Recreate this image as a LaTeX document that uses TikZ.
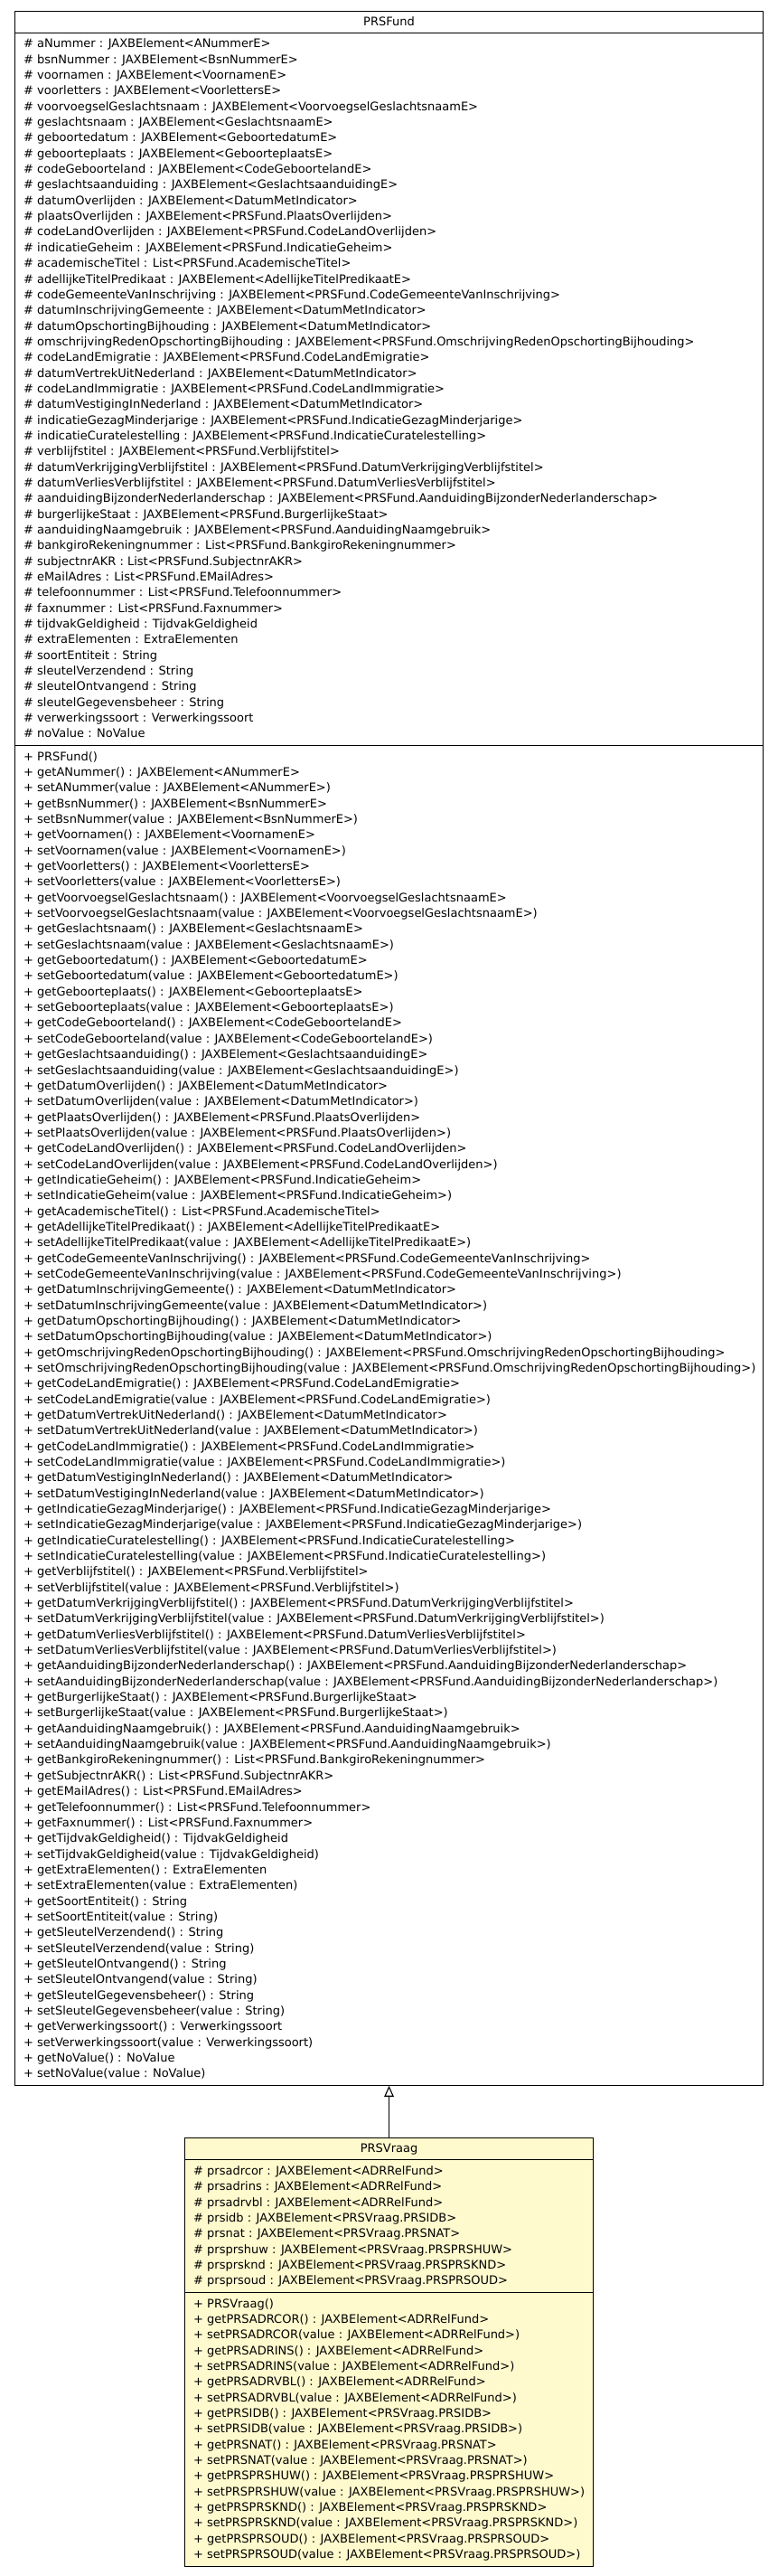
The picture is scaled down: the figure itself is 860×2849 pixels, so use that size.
\documentclass[tikz,border=0pt]{standalone}
\usepackage{fontspec}
\setmainfont{DejaVu Sans}
\usetikzlibrary{arrows.meta}
\definecolor{umlyellow}{HTML}{FFFACD}
\newcommand\umlfont{\fontsize{13}{17.34}\selectfont}
\tikzset{
  umlbox/.style={draw=black, line width=1.1pt, inner sep=0pt, anchor=north west, font=\umlfont},
  umltxt/.style={anchor=base west, inner sep=0pt, font=\umlfont},
  inherit/.style={draw=black, line width=1.1pt, -{Triangle[open, length=12pt, width=10.5pt]}}
}
\begin{document}
\begin{tikzpicture}[x=1pt,y=1pt]
\useasboundingbox (0,0) rectangle (860,-2849);
% ---------------- PRSFund ----------------
\node[umlbox, minimum width=828pt, minimum height=24pt] (fundhead) at (16,-11.5) {PRSFund};
\node[umlbox, minimum width=828pt, minimum height=788.3pt] (fundattr) at (16,-35.5) {};
\node[umlbox, minimum width=828pt, minimum height=1481.9pt] (fundmeth) at (16,-823.8) {};
\foreach \t [count=\i] in {
{\# aNummer : JAXBElement<ANummerE>},
{\# bsnNummer : JAXBElement<BsnNummerE>},
{\# voornamen : JAXBElement<VoornamenE>},
{\# voorletters : JAXBElement<VoorlettersE>},
{\# voorvoegselGeslachtsnaam : JAXBElement<VoorvoegselGeslachtsnaamE>},
{\# geslachtsnaam : JAXBElement<GeslachtsnaamE>},
{\# geboortedatum : JAXBElement<GeboortedatumE>},
{\# geboorteplaats : JAXBElement<GeboorteplaatsE>},
{\# codeGeboorteland : JAXBElement<CodeGeboortelandE>},
{\# geslachtsaanduiding : JAXBElement<GeslachtsaanduidingE>},
{\# datumOverlijden : JAXBElement<DatumMetIndicator>},
{\# plaatsOverlijden : JAXBElement<PRSFund.PlaatsOverlijden>},
{\# codeLandOverlijden : JAXBElement<PRSFund.CodeLandOverlijden>},
{\# indicatieGeheim : JAXBElement<PRSFund.IndicatieGeheim>},
{\# academischeTitel : List<PRSFund.AcademischeTitel>},
{\# adellijkeTitelPredikaat : JAXBElement<AdellijkeTitelPredikaatE>},
{\# codeGemeenteVanInschrijving : JAXBElement<PRSFund.CodeGemeenteVanInschrijving>},
{\# datumInschrijvingGemeente : JAXBElement<DatumMetIndicator>},
{\# datumOpschortingBijhouding : JAXBElement<DatumMetIndicator>},
{\# omschrijvingRedenOpschortingBijhouding : JAXBElement<PRSFund.OmschrijvingRedenOpschortingBijhouding>},
{\# codeLandEmigratie : JAXBElement<PRSFund.CodeLandEmigratie>},
{\# datumVertrekUitNederland : JAXBElement<DatumMetIndicator>},
{\# codeLandImmigratie : JAXBElement<PRSFund.CodeLandImmigratie>},
{\# datumVestigingInNederland : JAXBElement<DatumMetIndicator>},
{\# indicatieGezagMinderjarige : JAXBElement<PRSFund.IndicatieGezagMinderjarige>},
{\# indicatieCuratelestelling : JAXBElement<PRSFund.IndicatieCuratelestelling>},
{\# verblijfstitel : JAXBElement<PRSFund.Verblijfstitel>},
{\# datumVerkrijgingVerblijfstitel : JAXBElement<PRSFund.DatumVerkrijgingVerblijfstitel>},
{\# datumVerliesVerblijfstitel : JAXBElement<PRSFund.DatumVerliesVerblijfstitel>},
{\# aanduidingBijzonderNederlanderschap : JAXBElement<PRSFund.AanduidingBijzonderNederlanderschap>},
{\# burgerlijkeStaat : JAXBElement<PRSFund.BurgerlijkeStaat>},
{\# aanduidingNaamgebruik : JAXBElement<PRSFund.AanduidingNaamgebruik>},
{\# bankgiroRekeningnummer : List<PRSFund.BankgiroRekeningnummer>},
{\# subjectnrAKR : List<PRSFund.SubjectnrAKR>},
{\# eMailAdres : List<PRSFund.EMailAdres>},
{\# telefoonnummer : List<PRSFund.Telefoonnummer>},
{\# faxnummer : List<PRSFund.Faxnummer>},
{\# tijdvakGeldigheid : TijdvakGeldigheid},
{\# extraElementen : ExtraElementen},
{\# soortEntiteit : String},
{\# sleutelVerzendend : String},
{\# sleutelOntvangend : String},
{\# sleutelGegevensbeheer : String},
{\# verwerkingssoort : Verwerkingssoort},
{\# noValue : NoValue}}
  \node[umltxt] (fa\i) at (26,{-(52.9+(\i-1)*17.34)}) {\t};
\foreach \t [count=\i] in {
{+ PRSFund()},
{+ getANummer() : JAXBElement<ANummerE>},
{+ setANummer(value : JAXBElement<ANummerE>)},
{+ getBsnNummer() : JAXBElement<BsnNummerE>},
{+ setBsnNummer(value : JAXBElement<BsnNummerE>)},
{+ getVoornamen() : JAXBElement<VoornamenE>},
{+ setVoornamen(value : JAXBElement<VoornamenE>)},
{+ getVoorletters() : JAXBElement<VoorlettersE>},
{+ setVoorletters(value : JAXBElement<VoorlettersE>)},
{+ getVoorvoegselGeslachtsnaam() : JAXBElement<VoorvoegselGeslachtsnaamE>},
{+ setVoorvoegselGeslachtsnaam(value : JAXBElement<VoorvoegselGeslachtsnaamE>)},
{+ getGeslachtsnaam() : JAXBElement<GeslachtsnaamE>},
{+ setGeslachtsnaam(value : JAXBElement<GeslachtsnaamE>)},
{+ getGeboortedatum() : JAXBElement<GeboortedatumE>},
{+ setGeboortedatum(value : JAXBElement<GeboortedatumE>)},
{+ getGeboorteplaats() : JAXBElement<GeboorteplaatsE>},
{+ setGeboorteplaats(value : JAXBElement<GeboorteplaatsE>)},
{+ getCodeGeboorteland() : JAXBElement<CodeGeboortelandE>},
{+ setCodeGeboorteland(value : JAXBElement<CodeGeboortelandE>)},
{+ getGeslachtsaanduiding() : JAXBElement<GeslachtsaanduidingE>},
{+ setGeslachtsaanduiding(value : JAXBElement<GeslachtsaanduidingE>)},
{+ getDatumOverlijden() : JAXBElement<DatumMetIndicator>},
{+ setDatumOverlijden(value : JAXBElement<DatumMetIndicator>)},
{+ getPlaatsOverlijden() : JAXBElement<PRSFund.PlaatsOverlijden>},
{+ setPlaatsOverlijden(value : JAXBElement<PRSFund.PlaatsOverlijden>)},
{+ getCodeLandOverlijden() : JAXBElement<PRSFund.CodeLandOverlijden>},
{+ setCodeLandOverlijden(value : JAXBElement<PRSFund.CodeLandOverlijden>)},
{+ getIndicatieGeheim() : JAXBElement<PRSFund.IndicatieGeheim>},
{+ setIndicatieGeheim(value : JAXBElement<PRSFund.IndicatieGeheim>)},
{+ getAcademischeTitel() : List<PRSFund.AcademischeTitel>},
{+ getAdellijkeTitelPredikaat() : JAXBElement<AdellijkeTitelPredikaatE>},
{+ setAdellijkeTitelPredikaat(value : JAXBElement<AdellijkeTitelPredikaatE>)},
{+ getCodeGemeenteVanInschrijving() : JAXBElement<PRSFund.CodeGemeenteVanInschrijving>},
{+ setCodeGemeenteVanInschrijving(value : JAXBElement<PRSFund.CodeGemeenteVanInschrijving>)},
{+ getDatumInschrijvingGemeente() : JAXBElement<DatumMetIndicator>},
{+ setDatumInschrijvingGemeente(value : JAXBElement<DatumMetIndicator>)},
{+ getDatumOpschortingBijhouding() : JAXBElement<DatumMetIndicator>},
{+ setDatumOpschortingBijhouding(value : JAXBElement<DatumMetIndicator>)},
{+ getOmschrijvingRedenOpschortingBijhouding() : JAXBElement<PRSFund.OmschrijvingRedenOpschortingBijhouding>},
{+ setOmschrijvingRedenOpschortingBijhouding(value : JAXBElement<PRSFund.OmschrijvingRedenOpschortingBijhouding>)},
{+ getCodeLandEmigratie() : JAXBElement<PRSFund.CodeLandEmigratie>},
{+ setCodeLandEmigratie(value : JAXBElement<PRSFund.CodeLandEmigratie>)},
{+ getDatumVertrekUitNederland() : JAXBElement<DatumMetIndicator>},
{+ setDatumVertrekUitNederland(value : JAXBElement<DatumMetIndicator>)},
{+ getCodeLandImmigratie() : JAXBElement<PRSFund.CodeLandImmigratie>},
{+ setCodeLandImmigratie(value : JAXBElement<PRSFund.CodeLandImmigratie>)},
{+ getDatumVestigingInNederland() : JAXBElement<DatumMetIndicator>},
{+ setDatumVestigingInNederland(value : JAXBElement<DatumMetIndicator>)},
{+ getIndicatieGezagMinderjarige() : JAXBElement<PRSFund.IndicatieGezagMinderjarige>},
{+ setIndicatieGezagMinderjarige(value : JAXBElement<PRSFund.IndicatieGezagMinderjarige>)},
{+ getIndicatieCuratelestelling() : JAXBElement<PRSFund.IndicatieCuratelestelling>},
{+ setIndicatieCuratelestelling(value : JAXBElement<PRSFund.IndicatieCuratelestelling>)},
{+ getVerblijfstitel() : JAXBElement<PRSFund.Verblijfstitel>},
{+ setVerblijfstitel(value : JAXBElement<PRSFund.Verblijfstitel>)},
{+ getDatumVerkrijgingVerblijfstitel() : JAXBElement<PRSFund.DatumVerkrijgingVerblijfstitel>},
{+ setDatumVerkrijgingVerblijfstitel(value : JAXBElement<PRSFund.DatumVerkrijgingVerblijfstitel>)},
{+ getDatumVerliesVerblijfstitel() : JAXBElement<PRSFund.DatumVerliesVerblijfstitel>},
{+ setDatumVerliesVerblijfstitel(value : JAXBElement<PRSFund.DatumVerliesVerblijfstitel>)},
{+ getAanduidingBijzonderNederlanderschap() : JAXBElement<PRSFund.AanduidingBijzonderNederlanderschap>},
{+ setAanduidingBijzonderNederlanderschap(value : JAXBElement<PRSFund.AanduidingBijzonderNederlanderschap>)},
{+ getBurgerlijkeStaat() : JAXBElement<PRSFund.BurgerlijkeStaat>},
{+ setBurgerlijkeStaat(value : JAXBElement<PRSFund.BurgerlijkeStaat>)},
{+ getAanduidingNaamgebruik() : JAXBElement<PRSFund.AanduidingNaamgebruik>},
{+ setAanduidingNaamgebruik(value : JAXBElement<PRSFund.AanduidingNaamgebruik>)},
{+ getBankgiroRekeningnummer() : List<PRSFund.BankgiroRekeningnummer>},
{+ getSubjectnrAKR() : List<PRSFund.SubjectnrAKR>},
{+ getEMailAdres() : List<PRSFund.EMailAdres>},
{+ getTelefoonnummer() : List<PRSFund.Telefoonnummer>},
{+ getFaxnummer() : List<PRSFund.Faxnummer>},
{+ getTijdvakGeldigheid() : TijdvakGeldigheid},
{+ setTijdvakGeldigheid(value : TijdvakGeldigheid)},
{+ getExtraElementen() : ExtraElementen},
{+ setExtraElementen(value : ExtraElementen)},
{+ getSoortEntiteit() : String},
{+ setSoortEntiteit(value : String)},
{+ getSleutelVerzendend() : String},
{+ setSleutelVerzendend(value : String)},
{+ getSleutelOntvangend() : String},
{+ setSleutelOntvangend(value : String)},
{+ getSleutelGegevensbeheer() : String},
{+ setSleutelGegevensbeheer(value : String)},
{+ getVerwerkingssoort() : Verwerkingssoort},
{+ setVerwerkingssoort(value : Verwerkingssoort)},
{+ getNoValue() : NoValue},
{+ setNoValue(value : NoValue)}}
  \node[umltxt] (fm\i) at (26,{-(841.2+(\i-1)*17.34)}) {\t};
% ---------------- PRSVraag ----------------
\node[umlbox, fill=umlyellow, minimum width=452pt, minimum height=24pt] (vraaghead) at (204,-2364) {PRSVraag};
\node[umlbox, fill=umlyellow, minimum width=452pt, minimum height=146.72pt] (vraagattr) at (204,-2388) {};
\node[umlbox, fill=umlyellow, minimum width=452pt, minimum height=302.78pt] (vraagmeth) at (204,-2534.72) {};
\foreach \t [count=\i] in {
{\# prsadrcor : JAXBElement<ADRRelFund>},
{\# prsadrins : JAXBElement<ADRRelFund>},
{\# prsadrvbl : JAXBElement<ADRRelFund>},
{\# prsidb : JAXBElement<PRSVraag.PRSIDB>},
{\# prsnat : JAXBElement<PRSVraag.PRSNAT>},
{\# prsprshuw : JAXBElement<PRSVraag.PRSPRSHUW>},
{\# prsprsknd : JAXBElement<PRSVraag.PRSPRSKND>},
{\# prsprsoud : JAXBElement<PRSVraag.PRSPRSOUD>}}
  \node[umltxt] (va\i) at (214,{-(2405.4+(\i-1)*17.34)}) {\t};
\foreach \t [count=\i] in {
{+ PRSVraag()},
{+ getPRSADRCOR() : JAXBElement<ADRRelFund>},
{+ setPRSADRCOR(value : JAXBElement<ADRRelFund>)},
{+ getPRSADRINS() : JAXBElement<ADRRelFund>},
{+ setPRSADRINS(value : JAXBElement<ADRRelFund>)},
{+ getPRSADRVBL() : JAXBElement<ADRRelFund>},
{+ setPRSADRVBL(value : JAXBElement<ADRRelFund>)},
{+ getPRSIDB() : JAXBElement<PRSVraag.PRSIDB>},
{+ setPRSIDB(value : JAXBElement<PRSVraag.PRSIDB>)},
{+ getPRSNAT() : JAXBElement<PRSVraag.PRSNAT>},
{+ setPRSNAT(value : JAXBElement<PRSVraag.PRSNAT>)},
{+ getPRSPRSHUW() : JAXBElement<PRSVraag.PRSPRSHUW>},
{+ setPRSPRSHUW(value : JAXBElement<PRSVraag.PRSPRSHUW>)},
{+ getPRSPRSKND() : JAXBElement<PRSVraag.PRSPRSKND>},
{+ setPRSPRSKND(value : JAXBElement<PRSVraag.PRSPRSKND>)},
{+ getPRSPRSOUD() : JAXBElement<PRSVraag.PRSPRSOUD>},
{+ setPRSPRSOUD(value : JAXBElement<PRSVraag.PRSPRSOUD>)}}
  \node[umltxt] (vm\i) at (214,{-(2552.1+(\i-1)*17.34)}) {\t};
% ---------------- generalisation ----------------
\draw[inherit] (vraaghead.north) -- (fundmeth.south);
\end{tikzpicture}
\end{document}
